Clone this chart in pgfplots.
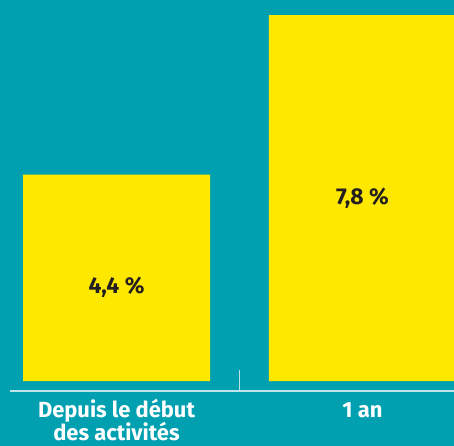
\documentclass[border=0pt]{standalone}
\usepackage{fontspec}
\setmainfont{Fira Sans}
\usepackage{pgfplots}
\pgfplotsset{compat=1.18}
\definecolor{bg}{RGB}{0,160,176}
\definecolor{baryel}{RGB}{255,232,0}
\definecolor{ink}{RGB}{35,31,32}
\definecolor{rulec}{RGB}{190,228,234}
\begin{document}
\begin{tikzpicture}
\fill[bg] (0,0) rectangle (454bp,446bp);
\begin{axis}[
  at={(0,0)}, anchor=south west,
  scale only axis, width=454bp, height=446bp,
  xmin=-0.4736, xmax=1.372, ymin=-1.385, ymax=8.12,
  axis lines=none,
  ybar, bar width=187bp,
  clip=false,
]
\addplot[fill=baryel, draw=none] coordinates {(0,4.4) (1,7.8)};
\draw[rulec, line width=2bp] (axis cs:-0.433,-0.213) -- (axis cs:1.372,-0.213);
\draw[rulec, line width=1.5bp] (axis cs:0.5,-0.213) -- (axis cs:0.5,0.234);
\node[font=\fontsize{23}{27}\selectfont\bfseries, text=ink] at (axis cs:0,2.0) {4,4~\%};
\node[font=\fontsize{23}{27}\selectfont\bfseries, text=ink] at (axis cs:1,3.9) {7,8~\%};
\node[font=\fontsize{22}{26}\selectfont\bfseries, text=white, anchor=base, inner sep=0pt] at (axis cs:0,-0.77) {Depuis le début};
\node[font=\fontsize{22}{26}\selectfont\bfseries, text=white, anchor=base, inner sep=0pt] at (axis cs:0,-1.26) {des activités};
\node[font=\fontsize{22}{26}\selectfont\bfseries, text=white, anchor=base, inner sep=0pt] at (axis cs:1,-0.77) {1 an};
\end{axis}
\pgfresetboundingbox
\useasboundingbox (0,0) rectangle (454bp,446bp);
\end{tikzpicture}
\end{document}
